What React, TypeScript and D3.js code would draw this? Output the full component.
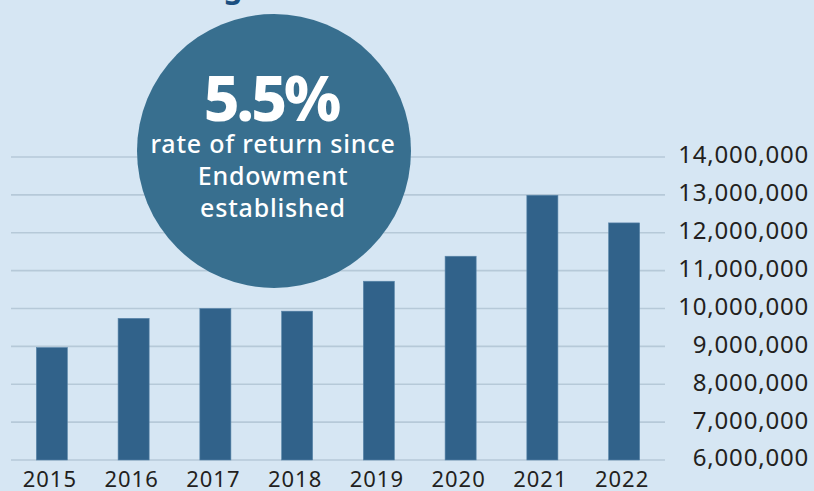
import React from "react";
import * as d3 from "d3";

const years = ["2015", "2016", "2017", "2018", "2019", "2020", "2021", "2022"];
const values = [8970000, 9740000, 10000000, 9930000, 10720000, 11380000, 12990000, 12260000];
const yTicks = [6000000, 7000000, 8000000, 9000000, 10000000, 11000000, 12000000, 13000000, 14000000];
const badgeValue = "5.5%";
const badgeLines = ["rate of return since", "Endowment", "established"];

const W = 814;
const H = 491;
const FONT = "'Noto Sans', 'Open Sans', sans-serif";

export default function App() {
  const x = d3.scaleBand<string>().domain(years).range([11, 665]).paddingInner(0.62).paddingOuter(0.31);
  const y = d3.scaleLinear().domain([6000000, 14000000]).range([460, 157]);
  const fmt = d3.format(",");
  return (
    <svg width={W} height={H} style={{ position: "absolute", left: 0, top: 0, display: "block" }}>
      <rect x={0} y={0} width={W} height={H} fill="#d6e6f3" />
      <text x={233} y={-2} fill="#1b4f80" fontFamily={FONT} fontWeight={700} fontSize={30} textAnchor="middle">g</text>
      {yTicks.map((t) => (
        <g key={t}>
          <line x1={11} x2={665} y1={y(t)} y2={y(t)} stroke="#b6c9d8" strokeWidth={1.6} />
          <text x={809} y={y(t) - 2} dy="0.35em" textAnchor="end" fill="#231f20" fontFamily={FONT} fontSize={24} letterSpacing={0.8}>
            {fmt(t)}
          </text>
        </g>
      ))}
      {years.map((yr, i) => (
        <rect key={yr} x={x(yr)} y={y(values[i])} width={x.bandwidth()} height={y(6000000) - y(values[i])} fill="#31628a" stroke="#5a86aa" strokeWidth={0.6} />
      ))}
      {years.map((yr) => (
        <text key={yr} x={(x(yr) as number) + x.bandwidth() / 2 - 2} y={487} textAnchor="middle" fill="#231f20" fontFamily={FONT} fontSize={22} letterSpacing={1}>
          {yr}
        </text>
      ))}
      <circle cx={274} cy={151} r={137} fill="#386f8f" />
      <text x={271} y={121} textAnchor="middle" fill="#ffffff" fontFamily={FONT} fontWeight={800} fontSize={62} letterSpacing={-3}>
        {badgeValue}
      </text>
      {badgeLines.map((l, i) => (
        <text key={l} x={273} y={153 + i * 32} textAnchor="middle" fill="#ffffff" fontFamily={FONT} fontWeight={500} fontSize={25} letterSpacing={0.8}>
          {l}
        </text>
      ))}
    </svg>
  );
}
